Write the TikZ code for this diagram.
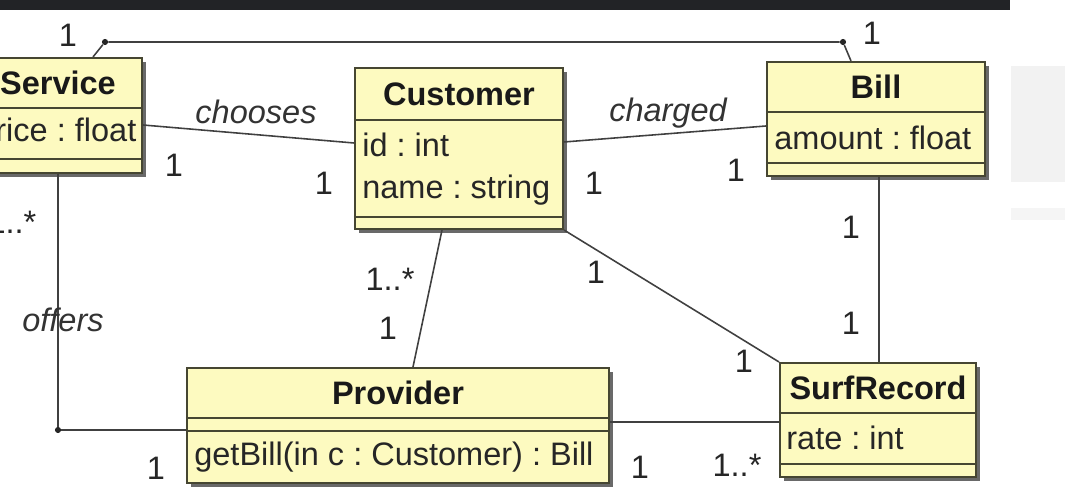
\documentclass[tikz,border=0pt]{standalone}
\usepackage{fontspec}
\setmainfont{Liberation Sans}
\frenchspacing
\usetikzlibrary{shadows}
\definecolor{classfill}{RGB}{253,250,192}
\definecolor{classline}{RGB}{70,70,50}
\definecolor{barcol}{RGB}{34,35,38}
\tikzset{
  classbox/.style={draw=classline, line width=1.2pt, fill=classfill, inner sep=0pt,
    drop shadow={shadow xshift=0.08cm, shadow yshift=-0.08cm, fill=black!65, opacity=0.9}},
  sep/.style={draw=classline, line width=1.2pt},
  title/.style={font=\fontsize{18.5}{22}\selectfont\bfseries, text=black!90, inner sep=0pt},
  attr/.style={font=\fontsize{18.5}{22}\selectfont, anchor=west, text=black!85, inner sep=0pt},
  mult/.style={font=\fontsize{18.5}{22}\selectfont, text=black!85, inner sep=0pt},
  role/.style={font=\fontsize{18.5}{22}\selectfont\itshape, text=black!80, inner sep=0pt},
  assoc/.style={draw=black!75, line width=0.9pt},
  dot/.style={circle, fill=black!85, inner sep=0pt, minimum size=3.5pt}
}
\begin{document}
\begin{tikzpicture}[x=0.02cm, y=-0.02cm]
    \useasboundingbox (0,0) rectangle (1065,492);
    \clip (0,0) rectangle (1065,492);
    \fill[barcol] (0,0) rectangle (1010,10);
    \fill[black!5] (1011,66) rectangle (1065,182);
    \fill[black!4] (1011,208) rectangle (1065,220);
    % classes
    \node[classbox, minimum width=3.36cm, minimum height=2.3cm] (service) at (58,115.5) {};
    \node[classbox, minimum width=4.16cm, minimum height=3.22cm] (customer) at (459,148.5) {};
    \node[classbox, minimum width=4.36cm, minimum height=2.28cm] (bill) at (876,119) {};
    \node[classbox, minimum width=8.44cm, minimum height=2.3cm] (provider) at (398,425.5) {};
    \node[classbox, minimum width=3.92cm, minimum height=2.28cm] (surf) at (878,420) {};
    \foreach \c/\y in {service/108,service/159,customer/120,customer/217,bill/112,bill/163,
                       provider/418,provider/431,surf/413,surf/464}
        \draw[sep] (\c.west |- 0,\y) -- (\c.east |- 0,\y);
    \node[title] (servicet) at (service.center |- 0,83) {Service};
    \node[title] (customert) at (customer.center |- 0,94) {Customer};
    \node[title] (billt) at (bill.center |- 0,87) {Bill};
    \node[title] (providert) at (provider.center |- 0,393) {Provider};
    \node[title] (surft) at (surf.center |- 0,388) {SurfRecord};
    \node[attr] (price) at (-23,133) {price : float};
    \node[attr] (id) at (362,145) {id : int};
    \node[attr] (name) at (362,190) {name : string};
    \node[attr] (amount) at (774,138) {amount : float};
    \node[attr] (getbill) at (194,457) {getBill(in c : Customer) : Bill};
    \node[attr] (rate) at (786,438) {rate : int};
    % associations
    \node[dot] (tl) at (105,42) {};
    \node[dot] (tr) at (843,42) {};
    \node[dot] (bl) at (58,430) {};
    \draw[assoc] (service.north -| 93,0) -- (tl) -- (tr) -- (bill.north -| 851,0);
    \draw[assoc] (service.east |- 0,125) -- (customer.west |- 0,143);
    \draw[assoc] (customer.east |- 0,142) -- (bill.west |- 0,126);
    \draw[assoc] (customer.south -| 442,0) -- (provider.north -| 413,0);
    \draw[assoc] (customer.south east) -- (surf.north west);
    \draw[assoc] (bill.south -| 879,0) -- (surf.north -| 879,0);
    \draw[assoc] (service.south -| 58,0) -- (bl) -- (provider.west |- 0,430);
    \draw[assoc] (provider.east |- 0,422) -- (surf.west |- 0,422);
    \node[role] (chooses) at (256,112) {chooses};
    \node[role] (charged) at (668,113) {charged};
    \node[role] (offers) at (63,320) {offers};
    \foreach \x/\y/\t [count=\i] in {68/35/1, 872/33/1, 174/165/1, 324/183/1, 594/183/1,
        736/170/1, 12/222/1..*, 156/468/1, 390/279/1..*, 388/328/1, 596/272/1,
        744/361/1, 851/227/1, 851/323/1, 640/467/1, 737/465/1..*}
        \node[mult] (m\i) at (\x,\y) {\t};
\end{tikzpicture}
\end{document}
